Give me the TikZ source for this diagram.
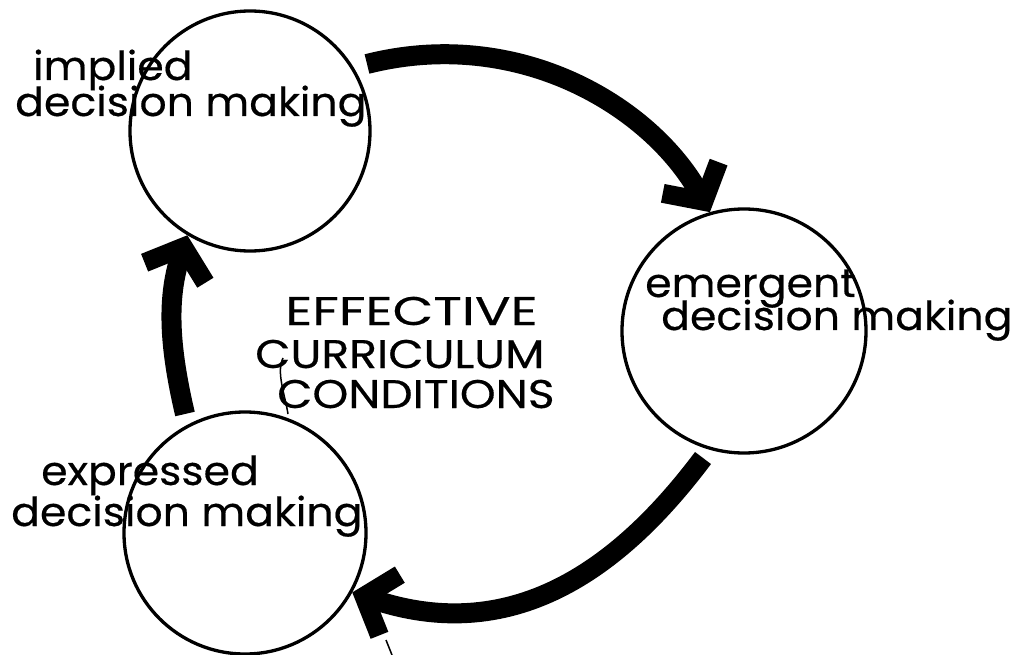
\documentclass[tikz,border=0pt]{standalone}
\usepackage{fontspec}
\setmainfont{Poppins}
\newfontfamily\lcfont{Poppins}[FakeStretch=1.065, FakeBold=0.4]
\newfontfamily\ucfont{Poppins}[FakeStretch=1.2, FakeBold=0.4]
\usetikzlibrary{arrows.meta}
\tikzset{
  ring/.style={circle, draw, line width=3.3pt, inner sep=0pt},
  lab/.style={anchor=base west, inner sep=0pt, font=\lcfont\fontsize{40}{40}\selectfont},
  capslab/.style={anchor=base west, inner sep=0pt, font=\ucfont\fontsize{40}{40}\selectfont},
  bigarrow/.style={line width=20pt, line cap=butt,
    -{Straight Barb[length=27pt, width=64pt, line width=19pt, line cap=butt, line join=miter]}},
  stray/.style={line width=1.5pt}
}
\begin{document}
\begin{tikzpicture}[x=1pt,y=-1pt]
\useasboundingbox (0,0) rectangle (1018,655);
% circles
\node[ring, minimum size=240pt] (c1) at (250,131) {};
\node[ring, minimum size=244pt] (c2) at (744,331) {};
\node[ring, minimum size=242pt] (c3) at (245,533) {};
% labels
\node[lab] (l1a) at (33,80) {implied};
\node[lab] (l1b) at (15,116) {decision making};
\node[lab] (l2a) at (645,297) {emergent};
\node[lab] (l2b) at (661,330) {decision making};
\node[lab] (l3a) at (41,485) {expressed};
\node[lab] (l3b) at (11,526) {decision making};
\node[capslab] (m1) at (285,325) {\scalebox{1.10}[1]{EFFECTIVE}};
\node[capslab] (m2) at (255,368) {\scalebox{0.953}[1]{CURRICULUM}};
\node[capslab] (m3) at (277,408) {\scalebox{0.951}[1]{CONDITIONS}};
% arrow tails
\coordinate (t1) at (367,64);
\coordinate (t2) at (703,458);
\coordinate (t3) at (185,414);
% arrows
\draw[bigarrow] (t1) .. controls (517,26) and (650,105) .. (c2.106);
\draw[bigarrow] (t2) .. controls (625,562) and (518,648) .. (c3.331);
\draw[bigarrow] (t3) .. controls (170,350) and (166,300) .. (c1.239);
% stray strokes
\coordinate (s1) at (283,358);
\coordinate (s2) at (288,414);
\draw[stray] (s1) .. controls (276,372) and (285,395) .. (s2);
\coordinate (s3) at (386,640);
\coordinate (s4) at (392,655);
\draw[stray] (s3) -- (s4);
\end{tikzpicture}
\end{document}
